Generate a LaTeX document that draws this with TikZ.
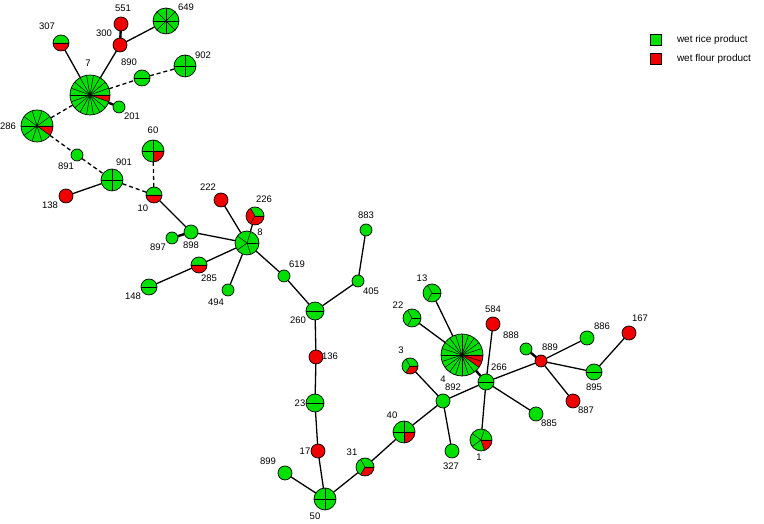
\documentclass[tikz,border=0pt]{standalone}
\usepackage{fontspec}
\setmainfont{Liberation Sans}
\usetikzlibrary{positioning}

\definecolor{ricegreen}{RGB}{0,224,0}
\definecolor{flourred}{RGB}{240,0,0}

% name, x, y, radius, slices, red slices, label x, label y
\newcommand{\mstnode}[8]{%
  \node[pienode, minimum size=#4*2pt] (n#1) at (#2,#3) {};
  \ifnum#6>0
    \fill[flourred] (n#1.center) -- ++(0:#4pt)
      arc[start angle=0, end angle=-360*#6/#5, radius=#4pt] -- cycle;
  \fi
  \ifnum#5>1
    \foreach \s in {1,...,#5}
      \draw[slice] (n#1.center) -- ++({-360*(\s-1)/#5}:#4pt);
  \fi
  \draw[rim] (n#1.center) circle[radius=#4pt];
  \node[lbl] (l#1) at (#7,#8) {#1};
}

\begin{document}
\begin{tikzpicture}[
  x=1pt, y=1pt,
  pienode/.style={circle, fill=ricegreen, inner sep=0pt},
  slice/.style={line width=0.5pt},
  rim/.style={line width=0.7pt},
  lbl/.style={font=\fontsize{9.5}{10}\selectfont, inner sep=0pt},
  edge/.style={line width=1.3pt},
  link/.style={edge, dash pattern=on 4pt off 3pt},
  short/.style={line width=2.4pt},
  key/.style={draw, line width=0.6pt, minimum size=11pt, inner sep=0pt}
]
  \useasboundingbox (0,0) rectangle (764,524);

  % upper left group
  \mstnode{7}{90}{429}{20}{18}{1}{88}{461}
  \mstnode{307}{61}{481}{8}{2}{1}{47}{498}
  \mstnode{300}{120}{479}{7}{1}{1}{104}{491}
  \mstnode{551}{121}{500}{7}{1}{1}{123}{516}
  \mstnode{649}{166}{503}{13}{8}{0}{186}{517}
  \mstnode{890}{142}{446}{8}{2}{0}{129}{462}
  \mstnode{902}{185}{458}{11}{4}{0}{203}{469}
  \mstnode{201}{119}{417}{6}{1}{0}{132}{408}
  \mstnode{286}{37}{398}{16}{10}{1}{8}{398}
  \mstnode{891}{77}{369}{6}{1}{0}{66}{358}
  \mstnode{901}{112}{344}{11}{4}{0}{124}{362}
  \mstnode{60}{153}{373}{11}{4}{1}{153}{394}
  \mstnode{10}{154}{329}{8}{2}{1}{143}{316}
  \mstnode{138}{66}{328}{7}{1}{1}{50}{319}

  % middle group
  \mstnode{222}{221}{324}{7}{1}{1}{208}{337}
  \mstnode{226}{255}{308}{9}{3}{2}{264}{325}
  \mstnode{898}{191}{292}{7}{1}{0}{191}{279}
  \mstnode{897}{172}{286}{6}{1}{0}{158}{277}
  \mstnode{8}{247}{281}{12}{5}{0}{260}{292}
  \mstnode{285}{199}{259}{8}{2}{1}{209}{246}
  \mstnode{148}{149}{237}{8}{2}{0}{133}{228}
  \mstnode{494}{228}{234}{6}{1}{0}{216}{222}
  \mstnode{619}{284}{248}{6}{1}{0}{297}{260}
  \mstnode{883}{366}{294}{6}{1}{0}{366}{309}
  \mstnode{405}{358}{243}{6}{1}{0}{371}{233}
  \mstnode{260}{315}{213}{9}{2}{0}{298}{204}
  \mstnode{136}{316}{167}{7}{1}{1}{330}{168}
  \mstnode{23}{315}{121}{9}{2}{0}{300}{121}
  \mstnode{17}{318}{73}{7}{1}{1}{305}{73}
  \mstnode{899}{285}{51}{7}{1}{0}{268}{63}
  \mstnode{50}{325}{25}{11}{4}{0}{315}{8}
  \mstnode{31}{365}{57}{9}{3}{1}{352}{72}
  \mstnode{40}{404}{92}{11}{4}{1}{392}{109}

  % right group
  \mstnode{3}{410}{158}{8}{3}{1}{401}{174}
  \mstnode{892}{443}{123}{7}{1}{0}{453}{137}
  \mstnode{327}{452}{73}{7}{1}{0}{451}{58}
  \mstnode{4}{462}{169}{21}{20}{2}{443}{145}
  \mstnode{13}{432}{231}{9}{3}{0}{422}{246}
  \mstnode{22}{412}{206}{9}{3}{0}{398}{219}
  \mstnode{584}{493}{200}{7}{1}{1}{493}{215}
  \mstnode{266}{486}{142}{8}{2}{0}{499}{157}
  \mstnode{1}{481}{84}{11}{5}{1}{479}{67}
  \mstnode{885}{536}{110}{7}{1}{0}{549}{101}
  \mstnode{888}{526}{175}{6}{1}{0}{511}{189}
  \mstnode{889}{541}{163}{6}{1}{1}{550}{177}
  \mstnode{886}{587}{186}{7}{1}{0}{602}{198}
  \mstnode{895}{594}{152}{8}{2}{0}{594}{137}
  \mstnode{887}{573}{123}{7}{1}{1}{586}{114}
  \mstnode{167}{629}{191}{7}{1}{1}{640}{206}

  % legend
  \node[key, fill=ricegreen] (kr) at (656,484) {};
  \node[key, fill=flourred, below=7pt of kr] (kf) {};
  \node[lbl, font=\fontsize{10}{11}\selectfont, right=15pt of kr] (tr) {wet rice product};
  \node[lbl, font=\fontsize{10}{11}\selectfont, right=15pt of kf] (tf) {wet flour product};

  % links
  \draw[edge] (n7) -- (n307);
  \draw[edge] (n7) -- (n300);
  \draw[short] (n300) -- (n551);
  \draw[edge] (n300) -- (n649);
  \draw[link] (n7) -- (n890);
  \draw[link] (n890) -- (n902);
  \draw[short] (n7) -- (n201);
  \draw[link] (n7) -- (n286);
  \draw[link] (n286) -- (n891);
  \draw[link] (n891) -- (n901);
  \draw[edge] (n901) -- (n138);
  \draw[link] (n901) -- (n10);
  \draw[link] (n10) -- (n60);
  \draw[edge] (n10) -- (n898);
  \draw[short] (n898) -- (n897);
  \draw[edge] (n898) -- (n8);
  \draw[edge] (n222) -- (n8);
  \draw[edge] (n226) -- (n8);
  \draw[edge] (n285) -- (n8);
  \draw[edge] (n285) -- (n148);
  \draw[edge] (n494) -- (n8);
  \draw[edge] (n8) -- (n619);
  \draw[edge] (n619) -- (n260);
  \draw[edge] (n260) -- (n405);
  \draw[edge] (n405) -- (n883);
  \draw[edge] (n260) -- (n136);
  \draw[edge] (n136) -- (n23);
  \draw[edge] (n23) -- (n17);
  \draw[edge] (n17) -- (n50);
  \draw[edge] (n50) -- (n899);
  \draw[edge] (n50) -- (n31);
  \draw[edge] (n31) -- (n40);
  \draw[edge] (n40) -- (n892);
  \draw[edge] (n892) -- (n3);
  \draw[edge] (n892) -- (n327);
  \draw[edge] (n892) -- (n266);
  \draw[short] (n266) -- (n4);
  \draw[edge] (n4) -- (n13);
  \draw[edge] (n4) -- (n22);
  \draw[edge] (n266) -- (n584);
  \draw[edge] (n266) -- (n1);
  \draw[edge] (n266) -- (n885);
  \draw[edge] (n266) -- (n889);
  \draw[short] (n889) -- (n888);
  \draw[edge] (n889) -- (n886);
  \draw[edge] (n889) -- (n895);
  \draw[edge] (n889) -- (n887);
  \draw[edge] (n895) -- (n167);
\end{tikzpicture}
\end{document}
